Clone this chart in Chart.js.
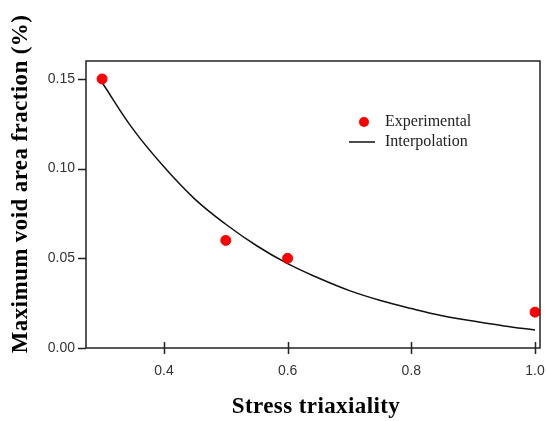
<!DOCTYPE html>
<html>
<head>
<meta charset="utf-8">
<script src="https://cdn.jsdelivr.net/npm/chart.js@4/dist/chart.umd.min.js"></script>
<style>
  html, body { margin: 0; padding: 0; background: #fff; }
  #wrap { width: 546px; height: 421px; }
</style>
</head>
<body>
<div id="wrap"><canvas id="c" width="546" height="421"></canvas></div>
<script>
// Measured maximum void area fraction versus stress triaxiality
const expTriaxiality = [0.3, 0.5, 0.6, 1.0];
const expVoidFraction = [0.15, 0.06, 0.05, 0.02];

// Fitted interpolation curve
const fitTriaxiality = [0.30, 0.35, 0.40, 0.45, 0.50, 0.55, 0.60, 0.65, 0.70, 0.75, 0.80, 0.85, 0.90, 0.95, 1.00];
const fitVoidFraction = [0.148, 0.122, 0.101, 0.083, 0.069, 0.057, 0.047, 0.039, 0.032, 0.0265, 0.022, 0.018, 0.015, 0.0123, 0.010];

const xTickValues = [0.4, 0.6, 0.8, 1.0];
const yTickValues = [0.00, 0.05, 0.10, 0.15];

const xTitle = 'Stress triaxiality';
const yTitle = 'Maximum void area fraction (%)';

const serif = '"Liberation Serif", "DejaVu Serif", serif';
const sans = '"Liberation Sans", Arial, sans-serif';
const axisColor = '#222';

// Box frame, crossing/outward tick marks and axis titles
const framePlugin = {
  id: 'frame',
  afterDraw(chart) {
    const { ctx, chartArea: a, scales } = chart;
    ctx.save();
    ctx.strokeStyle = axisColor;
    ctx.lineWidth = 1.5;
    ctx.strokeRect(a.left, a.top, a.right - a.left, a.bottom - a.top);
    ctx.beginPath();
    scales.x.ticks.forEach(t => {
      const px = Math.round(scales.x.getPixelForValue(t.value)) + 0.5;
      ctx.moveTo(px, a.bottom - 6);
      ctx.lineTo(px, a.bottom + 6);
    });
    scales.y.ticks.forEach(t => {
      const py = Math.round(scales.y.getPixelForValue(t.value)) + 0.5;
      ctx.moveTo(a.left - 8, py);
      ctx.lineTo(a.left, py);
    });
    ctx.stroke();

    ctx.fillStyle = '#000';
    ctx.textAlign = 'center';
    ctx.textBaseline = 'middle';
    ctx.letterSpacing = '0.4px';
    ctx.font = 'bold 23px ' + serif;
    ctx.fillText(xTitle, (a.left + a.right) / 2 + 3, 407);

    ctx.translate(21, 184);
    ctx.rotate(-Math.PI / 2);
    ctx.fillText(yTitle, 0, 0);
    ctx.restore();
  }
};

// Legend inside the plot, built from the dataset styles
const legendPlugin = {
  id: 'insideLegend',
  afterDraw(chart) {
    const { ctx } = chart;
    const ds = chart.data.datasets;
    ctx.save();
    ctx.font = '16px ' + serif;
    ctx.textAlign = 'left';
    ctx.textBaseline = 'middle';
    // point entry
    ctx.beginPath();
    ctx.arc(364, 122, 5, 0, Math.PI * 2);
    ctx.fillStyle = ds[0].backgroundColor;
    ctx.fill();
    ctx.fillStyle = '#222';
    ctx.fillText(ds[0].label, 385, 122);
    // line entry
    ctx.beginPath();
    ctx.moveTo(349, 142);
    ctx.lineTo(375, 142);
    ctx.strokeStyle = ds[1].borderColor;
    ctx.lineWidth = 1.5;
    ctx.stroke();
    ctx.fillText(ds[1].label, 385, 142);
    ctx.restore();
  }
};

new Chart(document.getElementById('c'), {
  type: 'scatter',
  data: {
    datasets: [
      {
        label: 'Experimental',
        data: expTriaxiality.map((x, i) => ({ x, y: expVoidFraction[i] })),
        backgroundColor: '#ff0000',
        borderColor: '#ff0000',
        pointRadius: 5,
        pointHoverRadius: 5,
        order: 0
      },
      {
        label: 'Interpolation',
        type: 'line',
        data: fitTriaxiality.map((x, i) => ({ x, y: fitVoidFraction[i] })),
        borderColor: '#111',
        borderWidth: 1.5,
        pointRadius: 0,
        fill: false,
        tension: 0.4,
        order: 1
      }
    ]
  },
  options: {
    responsive: false,
    animation: false,
    layout: { padding: { left: 0, top: 61, right: 5, bottom: 0 } },
    plugins: {
      legend: { display: false },
      tooltip: { enabled: false }
    },
    scales: {
      x: {
        type: 'linear',
        min: 0.274,
        max: 1.008,
        grid: { display: false },
        border: { display: false },
        afterBuildTicks: s => { s.ticks = xTickValues.map(v => ({ value: v })); },
        afterFit: s => { s.height = 73; s.paddingLeft = 0; s.paddingRight = 0; },
        ticks: {
          padding: 7,
          maxRotation: 0,
          color: '#333',
          font: { family: sans, size: 14 },
          callback: v => Number(v).toFixed(1)
        }
      },
      y: {
        type: 'linear',
        min: 0,
        max: 0.16,
        grid: { display: false },
        border: { display: false },
        afterBuildTicks: s => { s.ticks = yTickValues.map(v => ({ value: v })); },
        afterFit: s => { s.width = 86; s.paddingTop = 0; s.paddingBottom = 0; },
        ticks: {
          padding: 3,
          color: '#333',
          font: { family: sans, size: 14 },
          callback: v => Number(v).toFixed(2)
        }
      }
    }
  },
  plugins: [framePlugin, legendPlugin]
});
</script>
</body>
</html>
